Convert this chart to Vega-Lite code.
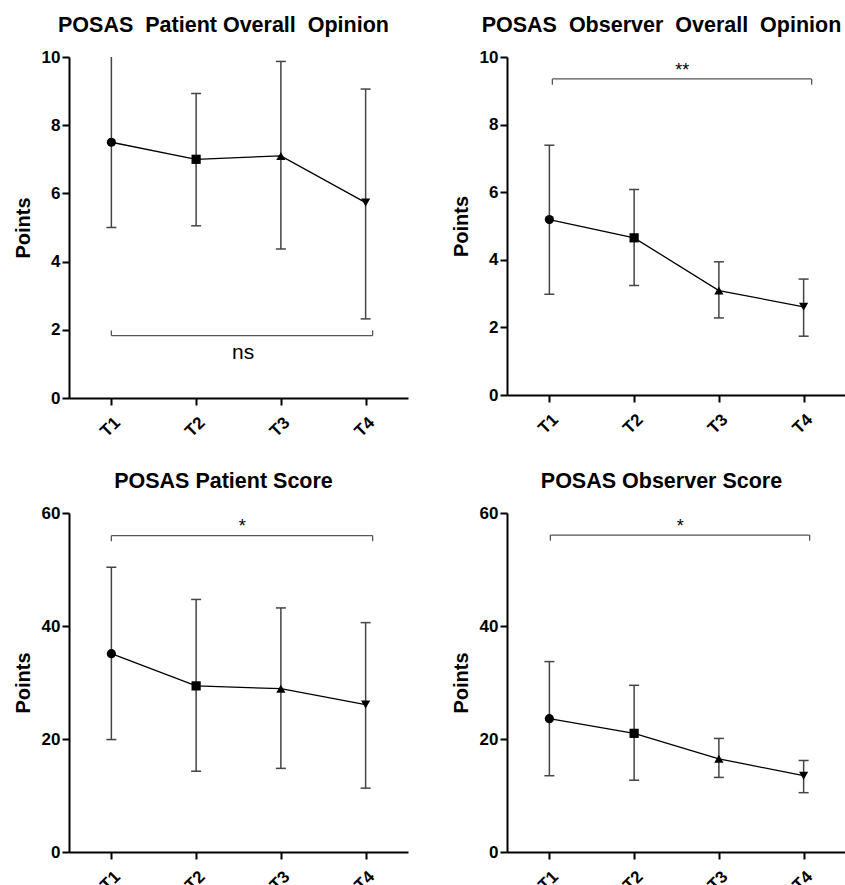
{
  "$schema": "https://vega.github.io/schema/vega-lite/v6.json",
  "background": "white",
  "padding": {"left": 13, "top": 14, "right": 0, "bottom": 0},
  "columns": 2,
  "spacing": {"row": 115, "column": 99},
  "bounds": "flush",
  "config": {
    "font": "Liberation Sans",
    "view": {"stroke": null},
    "axis": {"domainColor": "black", "domainWidth": 2, "tickColor": "black", "tickWidth": 2, "tickSize": 7, "labelFont": "Liberation Sans", "labelFontWeight": "bold", "labelColor": "black", "labelFontSize": 17, "labelPadding": 2, "titleFont": "Liberation Sans", "titleFontWeight": "bold", "titleFontSize": 20, "titleColor": "black", "titlePadding": 8, "grid": false},
    "axisX": {"labelAngle": -45, "labelFontSize": 17, "labelPadding": 9},
    "title": {"font": "Liberation Sans", "fontSize": 21.5, "fontWeight": "bold", "color": "black", "frame": "group", "dx": -15, "offset": 12, "baseline": "alphabetic"}
  },
  "concat": [
    {
      "title": "POSAS\u00a0 Patient Overall\u00a0 Opinion",
      "width": 339, "height": 341,
      "data": {"values": [
        {"T": "T1", "mean": 7.5, "lo": 5.0, "hi": 10.0},
        {"T": "T2", "mean": 7.0, "lo": 5.05, "hi": 8.93},
        {"T": "T3", "mean": 7.1, "lo": 4.37, "hi": 9.87},
        {"T": "T4", "mean": 5.73, "lo": 2.32, "hi": 9.06}
      ]},
      "encoding": {"x": {"field": "T", "type": "nominal", "scale": {"type": "point", "domain": ["T1", "T2", "T3", "T4"], "padding": 0.5}, "axis": {"title": null}}},
      "layer": [
        {"mark": {"type": "rule", "stroke": "#444", "strokeWidth": 1.5}, "encoding": {"y": {"field": "lo", "type": "quantitative", "title": "Points", "scale": {"domain": [0, 10], "nice": false}, "axis": {"values": [0, 2, 4, 6, 8, 10]}}, "y2": {"field": "hi"}}},
        {"mark": {"type": "tick", "color": "#444", "size": 10, "thickness": 1.5, "opacity": 1}, "encoding": {"y": {"field": "lo", "type": "quantitative", "title": "Points"}}},
        {"transform": [{"filter": "datum.hi < 10"}], "mark": {"type": "tick", "color": "#444", "size": 10, "thickness": 1.5, "opacity": 1}, "encoding": {"y": {"field": "hi", "type": "quantitative", "title": "Points"}}},
        {"mark": {"type": "line", "color": "black", "strokeWidth": 1.3}, "encoding": {"y": {"field": "mean", "type": "quantitative", "title": "Points"}}},
        {"mark": {"type": "point", "filled": true, "color": "black", "size": 85, "opacity": 1}, "encoding": {"y": {"field": "mean", "type": "quantitative", "title": "Points"}, "shape": {"field": "T", "type": "nominal", "scale": {"domain": ["T1", "T2", "T3", "T4"], "range": ["circle", "square", "triangle-up", "triangle-down"]}, "legend": null}}},
        {"data": {"values": [{"T": "T1", "E": "T4", "y": 1.83}]}, "mark": {"type": "rule", "color": "#555", "strokeWidth": 1.3, "x2Offset": 7}, "encoding": {"x2": {"field": "E"}, "y": {"field": "y", "type": "quantitative", "title": "Points"}}},
        {"data": {"values": [{"T": "T1", "y": 1.83, "y2": 1.98}]}, "mark": {"type": "rule", "color": "#555", "strokeWidth": 1.3}, "encoding": {"y": {"field": "y", "type": "quantitative", "title": "Points"}, "y2": {"field": "y2"}}},
        {"data": {"values": [{"T": "T4", "y": 1.83, "y2": 1.98}]}, "mark": {"type": "rule", "color": "#555", "strokeWidth": 1.3, "xOffset": 7}, "encoding": {"y": {"field": "y", "type": "quantitative", "title": "Points"}, "y2": {"field": "y2"}}},
        {"data": {"values": [{"T": "T2", "y": 1.32, "label": "ns"}]}, "mark": {"type": "text", "dx": 47, "fontSize": 21, "baseline": "middle", "color": "black"}, "encoding": {"y": {"field": "y", "type": "quantitative", "title": "Points"}, "text": {"field": "label"}}}
      ]
    },
    {
      "title": "POSAS\u00a0 Observer\u00a0 Overall\u00a0 Opinion",
      "width": 339, "height": 338,
      "data": {"values": [
        {"T": "T1", "mean": 5.19, "lo": 2.98, "hi": 7.39},
        {"T": "T2", "mean": 4.65, "lo": 3.24, "hi": 6.08},
        {"T": "T3", "mean": 3.09, "lo": 2.28, "hi": 3.94},
        {"T": "T4", "mean": 2.61, "lo": 1.74, "hi": 3.43}
      ]},
      "encoding": {"x": {"field": "T", "type": "nominal", "scale": {"type": "point", "domain": ["T1", "T2", "T3", "T4"], "padding": 0.5}, "axis": {"title": null}}},
      "layer": [
        {"mark": {"type": "rule", "stroke": "#444", "strokeWidth": 1.5}, "encoding": {"y": {"field": "lo", "type": "quantitative", "title": "Points", "scale": {"domain": [0, 10], "nice": false}, "axis": {"values": [0, 2, 4, 6, 8, 10]}}, "y2": {"field": "hi"}}},
        {"mark": {"type": "tick", "color": "#444", "size": 10, "thickness": 1.5, "opacity": 1}, "encoding": {"y": {"field": "lo", "type": "quantitative", "title": "Points"}}},
        {"mark": {"type": "tick", "color": "#444", "size": 10, "thickness": 1.5, "opacity": 1}, "encoding": {"y": {"field": "hi", "type": "quantitative", "title": "Points"}}},
        {"mark": {"type": "line", "color": "black", "strokeWidth": 1.3}, "encoding": {"y": {"field": "mean", "type": "quantitative", "title": "Points"}}},
        {"mark": {"type": "point", "filled": true, "color": "black", "size": 85, "opacity": 1}, "encoding": {"y": {"field": "mean", "type": "quantitative", "title": "Points"}, "shape": {"field": "T", "type": "nominal", "scale": {"domain": ["T1", "T2", "T3", "T4"], "range": ["circle", "square", "triangle-up", "triangle-down"]}, "legend": null}}},
        {"data": {"values": [{"T": "T1", "E": "T4", "y": 9.35}]}, "mark": {"type": "rule", "color": "#555", "strokeWidth": 1.3, "xOffset": 3, "x2Offset": 8}, "encoding": {"x2": {"field": "E"}, "y": {"field": "y", "type": "quantitative", "title": "Points"}}},
        {"data": {"values": [{"T": "T1", "y": 9.35, "y2": 9.18}]}, "mark": {"type": "rule", "color": "#555", "strokeWidth": 1.3, "xOffset": 3}, "encoding": {"y": {"field": "y", "type": "quantitative", "title": "Points"}, "y2": {"field": "y2"}}},
        {"data": {"values": [{"T": "T4", "y": 9.35, "y2": 9.18}]}, "mark": {"type": "rule", "color": "#555", "strokeWidth": 1.3, "xOffset": 8}, "encoding": {"y": {"field": "y", "type": "quantitative", "title": "Points"}, "y2": {"field": "y2"}}},
        {"data": {"values": [{"T": "T2", "y": 9.6, "label": "**"}]}, "mark": {"type": "text", "dx": 48, "fontSize": 18, "baseline": "middle", "color": "black"}, "encoding": {"y": {"field": "y", "type": "quantitative", "title": "Points"}, "text": {"field": "label"}}}
      ]
    },
    {
      "title": "POSAS Patient Score",
      "width": 339, "height": 339,
      "data": {"values": [
        {"T": "T1", "mean": 35.1, "lo": 19.9, "hi": 50.4},
        {"T": "T2", "mean": 29.4, "lo": 14.3, "hi": 44.7},
        {"T": "T3", "mean": 28.9, "lo": 14.8, "hi": 43.2},
        {"T": "T4", "mean": 26.1, "lo": 11.3, "hi": 40.6}
      ]},
      "encoding": {"x": {"field": "T", "type": "nominal", "scale": {"type": "point", "domain": ["T1", "T2", "T3", "T4"], "padding": 0.5}, "axis": {"title": null}}},
      "layer": [
        {"mark": {"type": "rule", "stroke": "#444", "strokeWidth": 1.5}, "encoding": {"y": {"field": "lo", "type": "quantitative", "title": "Points", "scale": {"domain": [0, 60], "nice": false}, "axis": {"values": [0, 20, 40, 60]}}, "y2": {"field": "hi"}}},
        {"mark": {"type": "tick", "color": "#444", "size": 10, "thickness": 1.5, "opacity": 1}, "encoding": {"y": {"field": "lo", "type": "quantitative", "title": "Points"}}},
        {"mark": {"type": "tick", "color": "#444", "size": 10, "thickness": 1.5, "opacity": 1}, "encoding": {"y": {"field": "hi", "type": "quantitative", "title": "Points"}}},
        {"mark": {"type": "line", "color": "black", "strokeWidth": 1.3}, "encoding": {"y": {"field": "mean", "type": "quantitative", "title": "Points"}}},
        {"mark": {"type": "point", "filled": true, "color": "black", "size": 85, "opacity": 1}, "encoding": {"y": {"field": "mean", "type": "quantitative", "title": "Points"}, "shape": {"field": "T", "type": "nominal", "scale": {"domain": ["T1", "T2", "T3", "T4"], "range": ["circle", "square", "triangle-up", "triangle-down"]}, "legend": null}}},
        {"data": {"values": [{"T": "T1", "E": "T4", "y": 56.0}]}, "mark": {"type": "rule", "color": "#555", "strokeWidth": 1.3, "x2Offset": 7}, "encoding": {"x2": {"field": "E"}, "y": {"field": "y", "type": "quantitative", "title": "Points"}}},
        {"data": {"values": [{"T": "T1", "y": 56.0, "y2": 55.0}]}, "mark": {"type": "rule", "color": "#555", "strokeWidth": 1.3}, "encoding": {"y": {"field": "y", "type": "quantitative", "title": "Points"}, "y2": {"field": "y2"}}},
        {"data": {"values": [{"T": "T4", "y": 56.0, "y2": 55.0}]}, "mark": {"type": "rule", "color": "#555", "strokeWidth": 1.3, "xOffset": 7}, "encoding": {"y": {"field": "y", "type": "quantitative", "title": "Points"}, "y2": {"field": "y2"}}},
        {"data": {"values": [{"T": "T2", "y": 57.6, "label": "*"}]}, "mark": {"type": "text", "dx": 46, "fontSize": 18, "baseline": "middle", "color": "black"}, "encoding": {"y": {"field": "y", "type": "quantitative", "title": "Points"}, "text": {"field": "label"}}}
      ]
    },
    {
      "title": "POSAS Observer Score",
      "width": 339, "height": 339,
      "data": {"values": [
        {"T": "T1", "mean": 23.6, "lo": 13.5, "hi": 33.7},
        {"T": "T2", "mean": 21.0, "lo": 12.7, "hi": 29.5},
        {"T": "T3", "mean": 16.5, "lo": 13.2, "hi": 20.1},
        {"T": "T4", "mean": 13.5, "lo": 10.5, "hi": 16.2}
      ]},
      "encoding": {"x": {"field": "T", "type": "nominal", "scale": {"type": "point", "domain": ["T1", "T2", "T3", "T4"], "padding": 0.5}, "axis": {"title": null}}},
      "layer": [
        {"mark": {"type": "rule", "stroke": "#444", "strokeWidth": 1.5}, "encoding": {"y": {"field": "lo", "type": "quantitative", "title": "Points", "scale": {"domain": [0, 60], "nice": false}, "axis": {"values": [0, 20, 40, 60]}}, "y2": {"field": "hi"}}},
        {"mark": {"type": "tick", "color": "#444", "size": 10, "thickness": 1.5, "opacity": 1}, "encoding": {"y": {"field": "lo", "type": "quantitative", "title": "Points"}}},
        {"mark": {"type": "tick", "color": "#444", "size": 10, "thickness": 1.5, "opacity": 1}, "encoding": {"y": {"field": "hi", "type": "quantitative", "title": "Points"}}},
        {"mark": {"type": "line", "color": "black", "strokeWidth": 1.3}, "encoding": {"y": {"field": "mean", "type": "quantitative", "title": "Points"}}},
        {"mark": {"type": "point", "filled": true, "color": "black", "size": 85, "opacity": 1}, "encoding": {"y": {"field": "mean", "type": "quantitative", "title": "Points"}, "shape": {"field": "T", "type": "nominal", "scale": {"domain": ["T1", "T2", "T3", "T4"], "range": ["circle", "square", "triangle-up", "triangle-down"]}, "legend": null}}},
        {"data": {"values": [{"T": "T1", "E": "T4", "y": 56.1}]}, "mark": {"type": "rule", "color": "#555", "strokeWidth": 1.3, "xOffset": 1, "x2Offset": 6}, "encoding": {"x2": {"field": "E"}, "y": {"field": "y", "type": "quantitative", "title": "Points"}}},
        {"data": {"values": [{"T": "T1", "y": 56.1, "y2": 55.1}]}, "mark": {"type": "rule", "color": "#555", "strokeWidth": 1.3, "xOffset": 1}, "encoding": {"y": {"field": "y", "type": "quantitative", "title": "Points"}, "y2": {"field": "y2"}}},
        {"data": {"values": [{"T": "T4", "y": 56.1, "y2": 55.1}]}, "mark": {"type": "rule", "color": "#555", "strokeWidth": 1.3, "xOffset": 6}, "encoding": {"y": {"field": "y", "type": "quantitative", "title": "Points"}, "y2": {"field": "y2"}}},
        {"data": {"values": [{"T": "T2", "y": 57.6, "label": "*"}]}, "mark": {"type": "text", "dx": 46, "fontSize": 18, "baseline": "middle", "color": "black"}, "encoding": {"y": {"field": "y", "type": "quantitative", "title": "Points"}, "text": {"field": "label"}}}
      ]
    }
  ]
}
